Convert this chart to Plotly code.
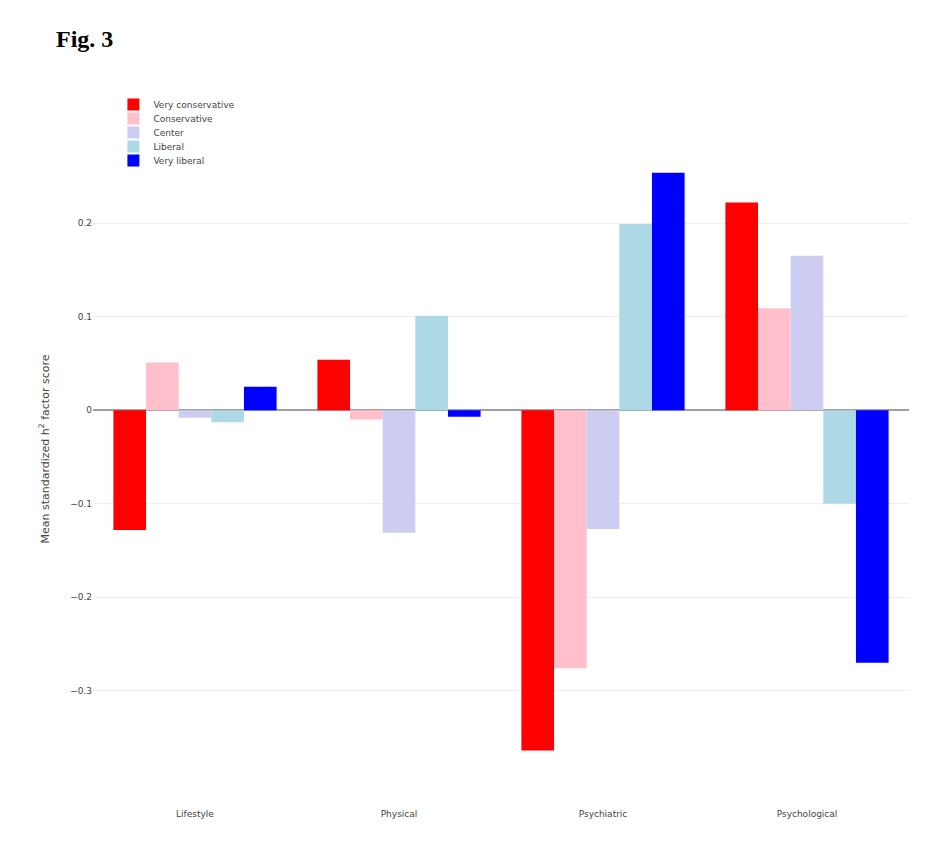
import plotly.graph_objects as go

categories = ["Lifestyle", "Physical", "Psychiatric", "Psychological"]
series_names = ["Very conservative", "Conservative", "Center", "Liberal", "Very liberal"]
very_conservative = [-0.128, 0.054, -0.364, 0.222]
conservative = [0.051, -0.010, -0.276, 0.109]
center = [-0.008, -0.131, -0.127, 0.165]
liberal = [-0.013, 0.101, 0.199, -0.100]
very_liberal = [0.025, -0.007, 0.254, -0.270]
y_tickvals = [-0.3, -0.2, -0.1, 0, 0.1, 0.2]
y_ticktext = ["−0.3", "−0.2", "−0.1", "0", "0.1", "0.2"]

series_values = [very_conservative, conservative, center, liberal, very_liberal]
colors = ["#ff0000", "#ffc0cb", "#cdcdf1", "#add8e6", "#0000ff"]

plot_h = 850 - 87 - 55
legend_ids = ["legend", "legend2", "legend3", "legend4", "legend5"]

fig = go.Figure()
for i, (name, vals, col) in enumerate(zip(series_names, series_values, colors)):
    fig.add_trace(go.Bar(x=categories, y=vals, name=name, legend=legend_ids[i],
                         marker=dict(color=col, line=dict(width=0))))

legend_layout = {}
for i, lid in enumerate(legend_ids):
    legend_layout[lid] = dict(x=0.025, y=1 + (5 - 14 * i) / plot_h, xanchor="left", yanchor="top",
                              bgcolor="rgba(0,0,0,0)", font=dict(size=9))

fig.update_layout(
    width=950, height=850,
    paper_bgcolor="white", plot_bgcolor="white",
    barmode="group", bargap=0.2, bargroupgap=0,
    margin=dict(l=85, r=49, t=87, b=55),
    font=dict(family="DejaVu Sans, Verdana, sans-serif", color="#444", size=9),
    showlegend=True,
    annotations=[dict(text="<b>Fig. 3</b>", xref="paper", yref="paper", x=-0.0477, y=1 + 56 / plot_h,
                      xanchor="left", yanchor="middle", showarrow=False,
                      font=dict(family="Liberation Serif, Times New Roman, serif", size=24, color="black"))],
    **legend_layout,
)
fig.update_xaxes(showgrid=False, showline=False, ticks="", tickfont=dict(size=9), ticklabelstandoff=4)
fig.update_yaxes(range=[-0.42, 0.337], tickvals=y_tickvals, ticktext=y_ticktext,
                 showgrid=True, gridcolor="#eeeeee", gridwidth=1,
                 zeroline=True, zerolinecolor="#a0a0a0", zerolinewidth=2,
                 tickfont=dict(size=9),
                 title=dict(text="Mean standardized h<sup>2</sup> factor score", font=dict(size=11), standoff=18))

fig.write_html("out.html")
